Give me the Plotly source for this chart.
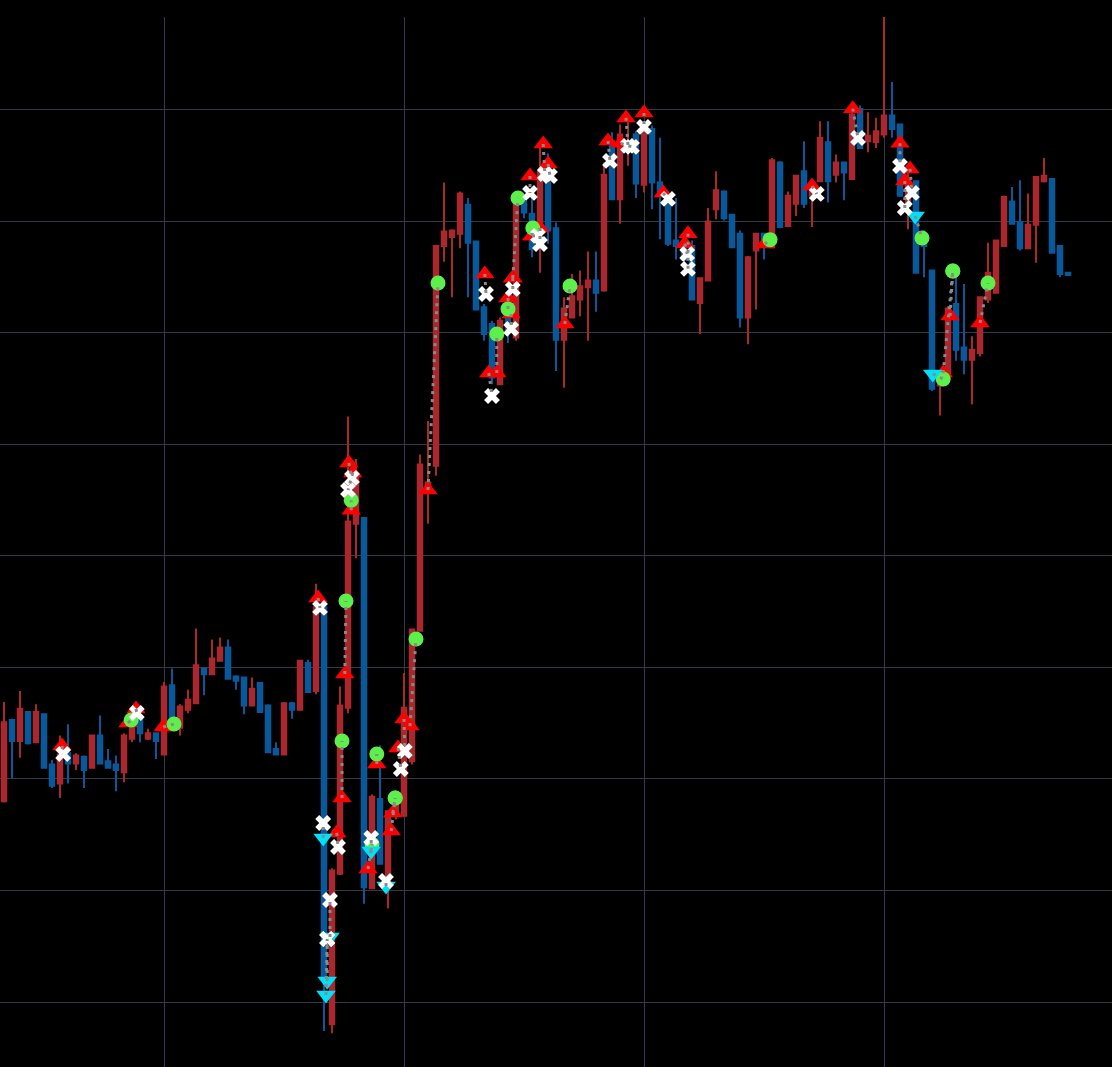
import plotly.graph_objects as go

# ---------------- candle data (bar index, OHLC) ----------------
bar_index = list(range(134))
open_ = [118.0, 125.3, 123.4, 126.0, 123.3, 125.8, 121.3, 119.6, 122.3, 121.4,
         122.0, 121.0, 123.9, 121.6, 121.3, 120.6, 123.6, 125.4, 123.6, 124.1,
         122.2, 128.4, 124.6, 126.2, 126.8, 129.9, 129.4, 130.6, 131.8, 129.2,
         129.1, 126.6, 128.6, 126.6, 122.7, 122.2, 126.8, 126.2, 130.4, 127.9,
         135.4, 98.0, 111.5, 126.4, 142.9, 143.4, 110.2, 118.2, 110.7, 116.7,
         116.7, 121.6, 133.3, 145.7, 148.1, 167.8, 168.6, 168.9, 171.5, 168.2,
         162.3, 160.8, 155.4, 163.3, 159.6, 171.8, 170.7, 169.8, 175.2, 169.4,
         159.4, 161.4, 163.0, 164.1, 164.7, 163.8, 177.2, 172.0, 176.3, 177.8,
         173.3, 178.3, 173.5, 172.4, 168.3, 168.1, 167.8, 162.7, 164.7, 171.1,
         172.7, 170.6, 168.9, 161.4, 167.4, 168.9, 167.7, 175.3, 169.6, 171.6,
         174.5, 172.3, 173.6, 177.1, 174.2, 175.3, 173.8, 180.1, 177.2, 177.1,
         177.8, 179.5, 178.7, 171.4, 173.6, 168.7, 165.6, 155.3, 156.1, 162.6,
         158.7, 157.6, 158.2, 163.0, 163.6, 167.8, 171.8, 169.9, 167.6, 169.7,
         173.6, 173.8, 167.8, 165.4]
high = [126.9, 125.4, 127.9, 126.1, 126.7, 125.9, 121.7, 123.9, 124.9, 122.3,
        122.1, 123.9, 125.7, 122.7, 122.1, 124.1, 125.0, 125.8, 124.5, 124.1,
        128.7, 129.9, 126.7, 128.0, 133.5, 129.9, 132.5, 132.7, 132.5, 129.3,
        129.1, 129.1, 128.7, 126.7, 123.3, 126.9, 126.9, 130.7, 130.7, 137.5,
        135.5, 112.0, 128.3, 152.5, 148.7, 143.5, 118.6, 123.0, 117.2, 118.5,
        129.5, 133.5, 149.1, 152.1, 167.9, 173.5, 169.3, 172.7, 172.1, 168.3,
        162.6, 161.1, 161.4, 163.8, 172.2, 172.3, 172.7, 176.6, 176.1, 169.9,
        163.2, 165.3, 165.6, 167.3, 167.3, 175.3, 178.0, 178.7, 179.0, 178.1,
        179.0, 178.6, 177.5, 172.7, 172.1, 168.7, 168.3, 164.9, 171.2, 174.5,
        172.8, 170.7, 169.2, 166.9, 168.9, 168.9, 175.7, 175.4, 172.7, 174.1,
        177.2, 173.8, 179.0, 179.0, 176.0, 175.3, 180.1, 180.4, 179.8, 179.3,
        188.4, 182.5, 178.7, 174.5, 173.7, 169.2, 165.7, 156.3, 162.4, 165.0,
        164.4, 159.7, 163.3, 168.1, 168.3, 172.3, 173.1, 173.7, 172.5, 174.0,
        175.7, 173.9, 167.8, 165.5]
low = [117.9, 120.1, 121.9, 123.1, 123.3, 121.0, 119.2, 118.3, 119.6, 120.8,
       119.2, 121.0, 121.4, 121.0, 118.9, 119.7, 123.3, 123.3, 123.5, 121.8,
       122.2, 125.2, 123.9, 125.9, 126.8, 127.5, 129.4, 130.6, 129.0, 128.0,
       125.8, 126.6, 126.0, 122.4, 122.2, 122.2, 125.4, 126.2, 127.8, 127.6,
       97.4, 97.2, 111.4, 125.9, 139.8, 108.8, 110.2, 112.3, 108.4, 116.4,
       116.6, 121.3, 133.2, 142.9, 147.2, 166.4, 163.2, 167.6, 163.2, 162.1,
       159.3, 155.4, 155.4, 159.1, 159.3, 170.3, 166.8, 165.4, 168.0, 156.6,
       155.1, 161.4, 161.5, 159.3, 161.9, 163.7, 171.9, 169.8, 175.0, 172.1,
       172.6, 171.1, 168.4, 167.8, 166.6, 166.3, 163.0, 159.9, 164.7, 170.2,
       170.1, 167.6, 160.5, 159.0, 162.1, 166.6, 167.6, 169.4, 169.6, 170.5,
       171.2, 169.5, 173.6, 171.7, 173.5, 171.9, 173.8, 176.6, 176.2, 176.6,
       177.5, 177.5, 172.3, 169.3, 165.4, 165.0, 154.8, 152.6, 156.0, 157.5,
       156.3, 153.6, 157.9, 162.7, 163.6, 167.8, 169.8, 167.4, 167.6, 166.3,
       173.5, 167.2, 165.0, 165.2]
close = [125.1, 123.4, 126.3, 123.2, 126.0, 121.0, 119.4, 122.2, 121.4, 122.1,
         120.8, 123.9, 121.4, 121.0, 120.8, 123.9, 124.7, 124.1, 124.1, 123.4,
         128.3, 125.5, 126.5, 127.1, 130.2, 129.4, 130.8, 131.8, 129.0, 128.8,
         126.6, 128.1, 126.0, 122.4, 122.2, 126.8, 126.2, 130.6, 127.8, 135.4,
         102.2, 111.8, 126.6, 143.1, 147.4, 110.3, 118.4, 112.4, 117.1, 118.0,
         126.4, 133.4, 148.2, 146.6, 167.8, 169.1, 169.2, 172.5, 168.1, 162.1,
         159.9, 156.0, 161.1, 160.3, 172.0, 170.8, 167.5, 174.5, 169.2, 159.4,
         162.2, 163.3, 164.2, 164.7, 163.6, 174.2, 172.0, 177.8, 177.2, 173.4,
         178.4, 173.5, 172.6, 168.0, 167.8, 166.6, 163.0, 164.9, 170.0, 172.8,
         170.3, 167.7, 161.4, 166.8, 168.9, 167.8, 175.5, 169.5, 172.3, 174.1,
         171.6, 173.5, 177.5, 173.6, 175.3, 174.4, 179.6, 176.6, 177.7, 178.1,
         179.5, 178.3, 172.3, 173.6, 165.4, 167.8, 155.0, 156.1, 162.2, 158.5,
         157.6, 158.5, 163.2, 165.4, 168.3, 172.2, 169.8, 167.6, 169.7, 174.0,
         174.1, 167.2, 165.3, 165.2]

# ---------------- trades (entry -> exit) ----------------
entry_side = ["L", "L", "L", "L", "L", "L", "L", "L", "L", "L",
              "S", "L", "S", "S", "S", "L", "S", "L", "S", "L",
              "L", "L", "L", "L", "L", "L", "L", "L", "L", "L",
              "L", "L", "L", "L", "L", "L", "L", "L", "L", "L",
              "L", "L", "L", "L", "L", "L", "L", "L", "L", "L",
              "L", "L", "S", "L", "L", "S", "L"]
entry_x = [7.25, 15.5, 16.5, 19.9, 39.25, 43.1, 43.6, 43.4, 42.6, 42.25,
           39.9, 41.6, 40.75, 40.4, 40.25, 46.6, 45.9, 45.5, 47.75, 48.4,
           48.6, 50.0, 50.75, 49.25, 53.0, 60.1, 61.6, 60.6, 63.6, 63.0,
           63.6, 63.4, 65.75, 67.4, 68.0, 67.0, 66.0, 66.0, 70.1, 75.5,
           77.75, 77.1, 80.0, 82.4, 85.5, 85.1, 95.1, 101.0, 106.1, 112.0,
           113.25, 112.6, 113.9, 118.25, 117.4, 116.1, 122.0]
entry_y = [122.96, 125.02, 126.28, 124.66, 136.23, 148.34, 147.45, 144.11, 129.42, 118.30,
           114.71, 115.16, 105.83, 101.88, 100.63, 121.35, 113.54, 111.93, 110.40, 115.34,
           116.95, 125.38, 124.75, 122.78, 145.92, 165.29, 156.41, 156.41, 164.93, 163.14,
           164.93, 161.71, 174.08, 176.95, 175.16, 169.42, 168.71, 168.71, 160.81, 177.22,
           179.29, 177.01, 179.74, 172.56, 168.91, 168.01, 167.98, 173.19, 180.12, 177.01,
           174.71, 173.64, 170.50, 161.53, 156.41, 156.33, 160.90]
exit_kind = ["X", "G", "X", "G", "X", "X", "X", "G", "G", "G",
             "X", "X", "X", "X", "X", "G", "X", "G", "X", "G",
             "G", "X", "G", "X", "G", "X", "G", "X", "G", "G",
             "X", "X", "X", "X", "X", "X", "X", "G", "G", "X",
             "X", "X", "X", "X", "X", "X", "G", "X", "X", "X",
             "X", "X", "G", "G", "G", "G", "G"]
exit_x = [7.4, 15.9, 16.6, 21.25, 39.5, 43.5, 43.0, 43.4, 42.75, 42.25,
          39.9, 41.75, 40.75, 40.4, 40.4, 46.6, 45.9, 46.0, 47.75, 48.9,
          48.9, 50.1, 51.5, 49.6, 54.25, 60.25, 61.6, 61.0, 64.25, 63.0,
          63.6, 63.4, 65.75, 67.6, 68.25, 67.0, 66.75, 66.1, 70.75, 75.75,
          78.0, 78.5, 80.0, 83.0, 85.5, 85.4, 95.75, 101.6, 106.75, 112.0,
          113.5, 112.6, 114.75, 118.6, 118.6, 117.4, 123.0]
exit_y = [122.24, 125.29, 125.92, 124.93, 135.34, 147.00, 145.92, 145.01, 135.97, 123.41,
          116.05, 113.90, 109.15, 105.65, 105.65, 122.24, 114.71, 114.17, 110.85, 118.30,
          118.30, 122.51, 132.56, 120.90, 164.49, 163.50, 159.91, 154.35, 172.11, 162.16,
          163.95, 160.37, 172.56, 174.26, 174.08, 167.98, 168.71, 169.42, 164.22, 175.43,
          176.78, 176.69, 178.48, 172.03, 165.75, 167.09, 168.37, 172.47, 177.49, 174.98,
          172.56, 171.21, 168.52, 165.56, 165.56, 155.88, 164.49]

# ---------------- styles ----------------
RED = "#a8282e"
BLUE = "#09599a"
GRID = "#2f3a4a"

fig = go.Figure()
fig.add_trace(go.Candlestick(
    x=bar_index, open=open_, high=high, low=low, close=close,
    increasing=dict(line=dict(color=RED, width=2), fillcolor=RED),
    decreasing=dict(line=dict(color=BLUE, width=2), fillcolor=BLUE),
    whiskerwidth=0, showlegend=False, hoverinfo="skip"))

def pick(lst_x, lst_y, mask):
    return ([x for x, m in zip(lst_x, mask) if m], [y for y, m in zip(lst_y, mask) if m])

lx, ly = pick(entry_x, entry_y, [s == "L" for s in entry_side])
sx, sy = pick(entry_x, entry_y, [s == "S" for s in entry_side])
gx, gy = pick(exit_x, exit_y, [k == "G" for k in exit_kind])
xx, xy = pick(exit_x, exit_y, [k == "X" for k in exit_kind])

fig.add_trace(go.Scatter(x=lx, y=ly, mode="markers",
                         marker=dict(symbol="triangle-up", size=17, color="#ff0000", line=dict(width=0)),
                         showlegend=False, hoverinfo="skip"))
fig.add_trace(go.Scatter(x=gx, y=gy, mode="markers",
                         marker=dict(symbol="circle", size=15, color="#5ef04a", line=dict(width=0)),
                         showlegend=False, hoverinfo="skip"))
fig.add_trace(go.Scatter(x=sx, y=sy, mode="markers",
                         marker=dict(symbol="triangle-down", size=17, color="#00e0f8", line=dict(width=0)),
                         showlegend=False, hoverinfo="skip"))
fig.add_trace(go.Scatter(x=xx, y=xy, mode="markers",
                         marker=dict(symbol="x", size=14, color="#ffffff", line=dict(width=0)),
                         showlegend=False, hoverinfo="skip"))

seg_x, seg_y = [], []
for x0, y0, x1, y1 in zip(entry_x, entry_y, exit_x, exit_y):
    seg_x += [x0, x1, None]
    seg_y += [y0, y1, None]
fig.add_trace(go.Scatter(x=seg_x, y=seg_y, mode="lines",
                         line=dict(color="#8a8a8a", width=3, dash="3px,5px"),
                         showlegend=False, hoverinfo="skip"))

fig.update_layout(
    width=1112, height=1067,
    margin=dict(l=0, r=0, t=17, b=0),
    paper_bgcolor="black", plot_bgcolor="black",
    showlegend=False, boxgap=0.25, boxgroupgap=0.25,
    xaxis=dict(range=[-0.5, 138.5], tickmode="linear", tick0=20, dtick=30,
               showticklabels=False, showgrid=True, gridcolor=GRID, gridwidth=1,
               zeroline=False, showline=False, ticks="", rangeslider=dict(visible=False)),
    yaxis=dict(range=[94.17, 188.34], tickmode="linear", tick0=100, dtick=10,
               showticklabels=False, showgrid=True, gridcolor=GRID, gridwidth=1,
               zeroline=False, showline=False, ticks=""),
)

fig.write_html("out.html", config={"displayModeBar": False},
               post_script="document.body.style.margin='0';document.body.style.background='black';")
